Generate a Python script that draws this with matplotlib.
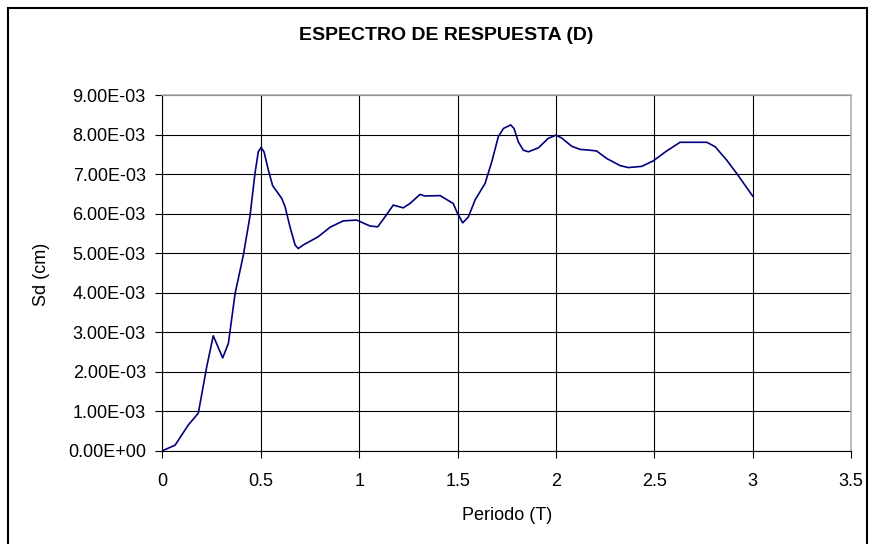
import matplotlib
matplotlib.use("Agg")
import matplotlib.pyplot as plt
from matplotlib.patches import Rectangle

plt.rcParams['font.family'] = ['Liberation Sans', 'DejaVu Sans']

# Data (Periodo T, Sd in units of 1e-3 cm)
periodo = [0.0, 0.064, 0.131, 0.182, 0.225, 0.258, 0.306, 0.335, 0.369,
           0.411, 0.445, 0.470, 0.487, 0.501, 0.516, 0.538, 0.560, 0.606, 0.623,
           0.648, 0.674, 0.690, 0.716, 0.792, 0.852, 0.919, 0.987, 1.055, 1.094,
           1.131, 1.173, 1.224, 1.258, 1.309, 1.334, 1.411, 1.478, 1.496, 1.526,
           1.555, 1.589, 1.640, 1.674, 1.707, 1.733, 1.770, 1.787, 1.809, 1.834,
           1.860, 1.911, 1.961, 2.000, 2.029, 2.080, 2.123, 2.173, 2.207, 2.258,
           2.326, 2.368, 2.436, 2.495, 2.563, 2.631, 2.767, 2.809, 2.868, 2.919,
           3.0]
sd_milli = [0.0, 0.14, 0.65, 0.95, 2.13, 2.91, 2.35, 2.72, 3.98,
            4.95, 5.95, 7.02, 7.57, 7.68, 7.57, 7.11, 6.71, 6.39, 6.18,
            5.67, 5.21, 5.12, 5.21, 5.42, 5.66, 5.82, 5.84, 5.69, 5.67,
            5.92, 6.22, 6.15, 6.26, 6.49, 6.45, 6.46, 6.26, 6.05, 5.77,
            5.92, 6.35, 6.77, 7.32, 7.95, 8.16, 8.25, 8.16, 7.82, 7.61,
            7.57, 7.67, 7.91, 7.99, 7.92, 7.71, 7.63, 7.61, 7.59, 7.40,
            7.22, 7.17, 7.20, 7.34, 7.59, 7.81, 7.81, 7.70, 7.36, 7.02,
            6.45]
sd = [v * 1e-3 for v in sd_milli]

x_ticks = [0, 0.5, 1, 1.5, 2, 2.5, 3, 3.5]
x_tick_labels = ['0', '0.5', '1', '1.5', '2', '2.5', '3', '3.5']
y_ticks = [i * 1e-3 for i in range(10)]
y_tick_labels = ['0.00E+00', '1.00E-03', '2.00E-03', '3.00E-03', '4.00E-03',
                 '5.00E-03', '6.00E-03', '7.00E-03', '8.00E-03', '9.00E-03']

title = 'ESPECTRO DE RESPUESTA (D)'
xlabel = 'Periodo (T)'
ylabel = 'Sd (cm)'

W, H = 870, 544
fig = plt.figure(figsize=(W / 100, H / 100), dpi=100)

# outer chart border
fig.patches.append(Rectangle((8 / W, -0.05), (867 - 8) / W, 1.05 - 8 / H,
                             transform=fig.transFigure, fill=False,
                             edgecolor='black', linewidth=1.5))

left, right, top, bottom = 162.5, 851, 95.3, 450.7
ax = fig.add_axes([left / W, 1 - bottom / H, (right - left) / W, (bottom - top) / H])

ax.plot(periodo, sd, color='#000080', linewidth=1.2, zorder=3,
        solid_joinstyle='round')

ax.set_xlim(0, 3.5)
ax.set_ylim(0, 9e-3)
ax.set_xticks(x_ticks)
ax.set_xticklabels(x_tick_labels, fontsize=13)
ax.set_yticks(y_ticks)
ax.set_yticklabels(y_tick_labels, fontsize=13)
ax.tick_params(direction='out', length=5, width=0.8, color='black')
ax.tick_params(axis='y', pad=7)
ax.tick_params(axis='x', pad=11)
ax.grid(True, color='black', linewidth=0.8)
ax.set_axisbelow(True)

for s in ['left', 'bottom']:
    ax.spines[s].set_color('black')
    ax.spines[s].set_linewidth(0.8)
for s in ['top', 'right']:
    ax.spines[s].set_color('#b0b0b0')
    ax.spines[s].set_linewidth(1.2)

fig.text(446 / W, 1 - 36 / H, title, ha='center', va='center',
         fontsize=14, fontweight='bold')
fig.text(507 / W, 1 - 515 / H, xlabel, ha='center', va='center', fontsize=13)
fig.text(42 / W, 1 - 274 / H, ylabel, ha='center', va='center', fontsize=13,
         rotation=90)

fig.savefig('out.png', dpi=100)
